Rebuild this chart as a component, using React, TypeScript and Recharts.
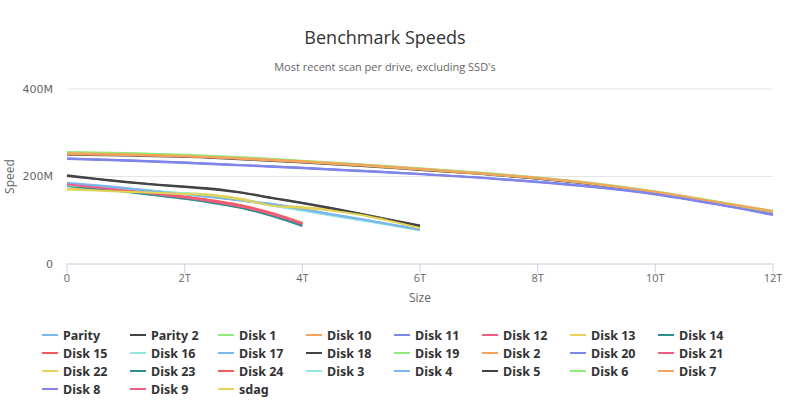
import React from 'react';
import {
  LineChart, Line, XAxis, YAxis, CartesianGrid, Legend,
} from 'recharts';

// size steps in TB for each drive capacity
const sizes12 = [0, 1, 2, 3, 4, 5, 6, 7, 8, 9, 10, 11, 12];
const sizes6 = [0, 0.5, 1, 1.5, 2, 2.5, 3, 3.5, 4, 4.5, 5, 5.5, 6];
const sizes4 = [0, 0.5, 1, 1.5, 2, 2.5, 3, 3.5, 4];

// speeds in MB/s along each scan
const parity = [252, 250, 246, 240, 233, 225, 216, 206, 195, 181, 163, 141, 118];
const parity2 = [250, 248, 245, 239, 232, 224, 215, 206, 195, 181, 163, 141, 118];
const disk1 = [256, 254, 250, 244, 236, 228, 219, 209, 198, 184, 166, 144, 121];
const disk10 = [252, 250, 247, 241, 234, 226, 217, 207, 196, 182, 164, 142, 119];
const disk11 = [241, 237, 232, 226, 220, 213, 206, 198, 188, 176, 160, 138, 113];
const disk12 = [184, 177, 170, 162, 153, 143, 131, 114, 92];
const disk13 = [172, 170, 167, 165, 162, 158, 148, 135, 130, 124, 114, 100, 84];
const disk14 = [179, 173, 166, 158, 150, 140, 128, 110, 88];
const disk15 = [183, 177, 170, 162, 154, 145, 133, 116, 94];
const disk16 = [178, 175, 171, 166, 161, 155, 145, 133, 122, 111, 100, 89, 77];
const disk17 = [186, 180, 174, 167, 160, 153, 145, 137, 126, 114, 103, 91, 79];
const disk18 = [203, 195, 188, 182, 177, 172, 163, 151, 140, 128, 115, 101, 88];
const disk19 = [181, 175, 168, 160, 152, 143, 131, 114, 95];
const disk2 = [251, 249, 246, 240, 233, 225, 216, 207, 196, 182, 164, 142, 119];
const disk20 = [240, 236, 231, 225, 219, 212, 205, 197, 187, 175, 159, 137, 112];
const disk21 = [183, 176, 169, 161, 152, 142, 130, 113, 91];
const disk22 = [171, 169, 166, 164, 161, 157, 147, 134, 129, 123, 113, 99, 83];
const disk23 = [178, 172, 165, 157, 149, 139, 127, 109, 87];
const disk24 = [182, 176, 169, 161, 153, 144, 132, 115, 93];
const disk3 = [180, 176, 172, 167, 162, 156, 146, 134, 122, 111, 100, 89, 77];
const disk4 = [184, 179, 173, 166, 159, 152, 144, 136, 125, 113, 102, 90, 78];
const disk5 = [201, 194, 187, 181, 176, 170, 162, 150, 139, 127, 114, 100, 87];
const disk6 = [255, 253, 249, 243, 235, 227, 218, 208, 197, 183, 165, 143, 120];
const disk7 = [253, 251, 247, 242, 235, 227, 218, 208, 197, 183, 165, 143, 121];
const disk8 = [241, 237, 232, 226, 220, 213, 206, 198, 188, 176, 160, 138, 113];
const disk9 = [182, 175, 168, 160, 152, 142, 130, 113, 92];
const sdag = [170, 168, 165, 163, 160, 156, 146, 133, 128, 122, 112, 98, 82];

const drives = [
  { name: 'Parity', sizes: sizes12, speeds: parity },
  { name: 'Parity 2', sizes: sizes12, speeds: parity2 },
  { name: 'Disk 1', sizes: sizes12, speeds: disk1 },
  { name: 'Disk 10', sizes: sizes12, speeds: disk10 },
  { name: 'Disk 11', sizes: sizes12, speeds: disk11 },
  { name: 'Disk 12', sizes: sizes4, speeds: disk12 },
  { name: 'Disk 13', sizes: sizes6, speeds: disk13 },
  { name: 'Disk 14', sizes: sizes4, speeds: disk14 },
  { name: 'Disk 15', sizes: sizes4, speeds: disk15 },
  { name: 'Disk 16', sizes: sizes6, speeds: disk16 },
  { name: 'Disk 17', sizes: sizes6, speeds: disk17 },
  { name: 'Disk 18', sizes: sizes6, speeds: disk18 },
  { name: 'Disk 19', sizes: sizes4, speeds: disk19 },
  { name: 'Disk 2', sizes: sizes12, speeds: disk2 },
  { name: 'Disk 20', sizes: sizes12, speeds: disk20 },
  { name: 'Disk 21', sizes: sizes4, speeds: disk21 },
  { name: 'Disk 22', sizes: sizes6, speeds: disk22 },
  { name: 'Disk 23', sizes: sizes4, speeds: disk23 },
  { name: 'Disk 24', sizes: sizes4, speeds: disk24 },
  { name: 'Disk 3', sizes: sizes6, speeds: disk3 },
  { name: 'Disk 4', sizes: sizes6, speeds: disk4 },
  { name: 'Disk 5', sizes: sizes6, speeds: disk5 },
  { name: 'Disk 6', sizes: sizes12, speeds: disk6 },
  { name: 'Disk 7', sizes: sizes12, speeds: disk7 },
  { name: 'Disk 8', sizes: sizes12, speeds: disk8 },
  { name: 'Disk 9', sizes: sizes4, speeds: disk9 },
  { name: 'sdag', sizes: sizes6, speeds: sdag },
];

const xTicks = [0, 2, 4, 6, 8, 10, 12];
const yTicks = [0, 200, 400];

const palette = [
  '#7cb5ec', '#434348', '#90ed7d', '#f7a35c', '#8085e9',
  '#f15c80', '#e4d354', '#2b908f', '#f45b5b', '#91e8e1',
];

const series = drives.map((d, i) => ({
  name: d.name,
  color: palette[i % palette.length],
  rows: d.sizes.map((s, j) => ({ size: s, speed: d.speeds[j] })),
}));

const LEGEND_COLS = 8;

function DriveLegend() {
  return (
    <div style={{ position: 'relative', width: 788, height: 78 }}>
      {series.map((s, i) => {
        const col = i % LEGEND_COLS;
        const row = Math.floor(i / LEGEND_COLS);
        return (
          <div
            key={s.name}
            style={{
              position: 'absolute',
              left: 42 + col * 88,
              top: row * 18,
              height: 18,
              display: 'flex',
              alignItems: 'center',
              fontFamily: '"Noto Sans", sans-serif',
              fontWeight: 'bold',
              fontSize: 12.5,
              color: '#333333',
              whiteSpace: 'nowrap',
            }}
          >
            <span style={{ display: 'inline-block', width: 16, height: 2, background: s.color, marginRight: 5 }} />
            {s.name}
          </div>
        );
      })}
    </div>
  );
}

function SpeedLabel(props: any) {
  const vb = props.viewBox || { y: 89, height: 175 };
  const cy = vb.y + vb.height / 2;
  return (
    <text
      x={9}
      y={cy}
      transform={`rotate(-90 9 ${cy})`}
      textAnchor="middle"
      dominantBaseline="central"
      fill="#666666"
      fontSize={12}
      fontFamily='"Open Sans", sans-serif'
    >
      Speed
    </text>
  );
}

export default function App() {
  return (
    <div style={{ position: 'absolute', left: 0, top: 0, width: 788, height: 404, background: '#fff' }}>
      <div style={{
        position: 'absolute', top: 24, width: 770, textAlign: 'center',
        fontFamily: '"Open Sans", sans-serif', fontSize: 18, color: '#333333', lineHeight: '26px',
      }}
      >
        Benchmark Speeds
      </div>
      <div style={{
        position: 'absolute', top: 59, width: 770, textAlign: 'center',
        fontFamily: '"Open Sans", sans-serif', fontSize: 11, color: '#666666', lineHeight: '16px',
      }}
      >
        Most recent scan per drive, excluding SSD&apos;s
      </div>
      <LineChart
        width={788}
        height={404}
        margin={{ top: 89, right: 15, left: 0, bottom: 0 }}
      >
        <CartesianGrid vertical={false} stroke="#e6e6e6" />
        <XAxis
          dataKey="size"
          type="number"
          domain={[0, 12]}
          ticks={xTicks}
          tickFormatter={(v) => (v === 0 ? '0' : `${v}T`)}
          height={62}
          stroke="#ccd6eb"
          tickSize={9}
          tickMargin={1}
          tick={{ fill: '#666666', fontSize: 11, fontFamily: '"Open Sans", sans-serif' }}
          label={{
            value: 'Size', position: 'insideBottom', offset: 24,
            fill: '#666666', fontSize: 12, fontFamily: '"Open Sans", sans-serif',
          }}
        />
        <YAxis
          type="number"
          domain={[0, 400]}
          ticks={yTicks}
          tickFormatter={(v) => (v === 0 ? '0' : `${v}M`)}
          width={67}
          axisLine={false}
          tickLine={false}
          tickSize={0}
          tickMargin={14}
          tick={{ fill: '#666666', fontSize: 11, fontFamily: '"DejaVu Sans", sans-serif' }}
          label={<SpeedLabel />}
        />
        <Legend verticalAlign="bottom" content={() => <DriveLegend />} wrapperStyle={{ left: 0, width: 788 }} />
        {series.map((s) => (
          <Line
            key={s.name}
            name={s.name}
            data={s.rows}
            dataKey="speed"
            type="monotone"
            stroke={s.color}
            strokeWidth={2}
            dot={false}
            activeDot={false}
            isAnimationActive={false}
          />
        ))}
      </LineChart>
    </div>
  );
}
